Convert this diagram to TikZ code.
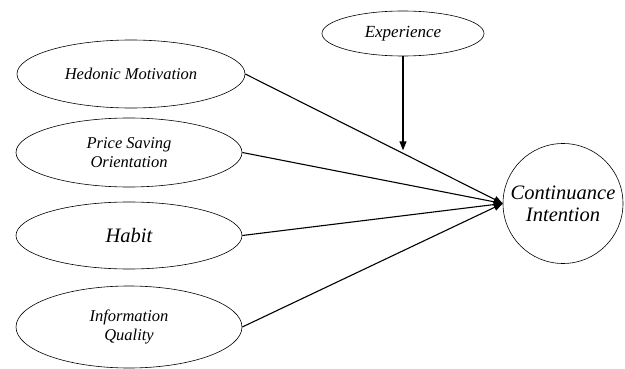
\documentclass[tikz,border=0pt]{standalone}
\usepackage{fontspec}
\setmainfont{Liberation Serif}
\usetikzlibrary{shapes.geometric,arrows.meta,calc}
\tikzset{
  construct/.style={draw, ellipse, line width=0.6pt, inner sep=0pt, align=center, font=\itshape\fontsize{16.5}{19}\selectfont},
  path/.style={line width=1.1pt, -{Triangle[length=9pt,width=7pt]}},
}
\begin{document}
\begin{tikzpicture}[x=1pt,y=-1pt]
\useasboundingbox (0,0) rectangle (625,369);
\node[construct, minimum width=228pt, minimum height=68pt] (hm) at (131,74) {Hedonic Motivation};
\node[construct, minimum width=226pt, minimum height=69pt] (pso) at (129,152.5) {Price Saving\\Orientation};
\node[construct, minimum width=226pt, minimum height=67pt, font=\itshape\fontsize{20.5}{23}\selectfont] (hab) at (129,235.5) {Habit};
\node[construct, minimum width=226pt, minimum height=82pt] (iq) at (129,327) {Information\\Quality};
\node[construct, minimum width=162pt, minimum height=45pt, font=\itshape\fontsize{17}{19}\selectfont] (exp) at (403,33.5) {Experience};
\node[draw, circle, line width=0.6pt, minimum size=120pt, inner sep=0pt, align=center, font=\itshape\fontsize{20.5}{22}\selectfont] (ci) at (563,203.5) {Continuance\\Intention};
\coordinate (tip) at (ci.west);
\draw[path] (hm.east) -- (tip);
\draw[path] (pso.east) -- (tip);
\draw[path] (hab.east) -- (tip);
\draw[path] (iq.east) -- (tip);
\path (hm.east) -- (tip) coordinate[pos=0.62] (mid);
\draw[path] (exp.south) -- ($(exp.south |- mid)+(0,-4)$);
\end{tikzpicture}
\end{document}
